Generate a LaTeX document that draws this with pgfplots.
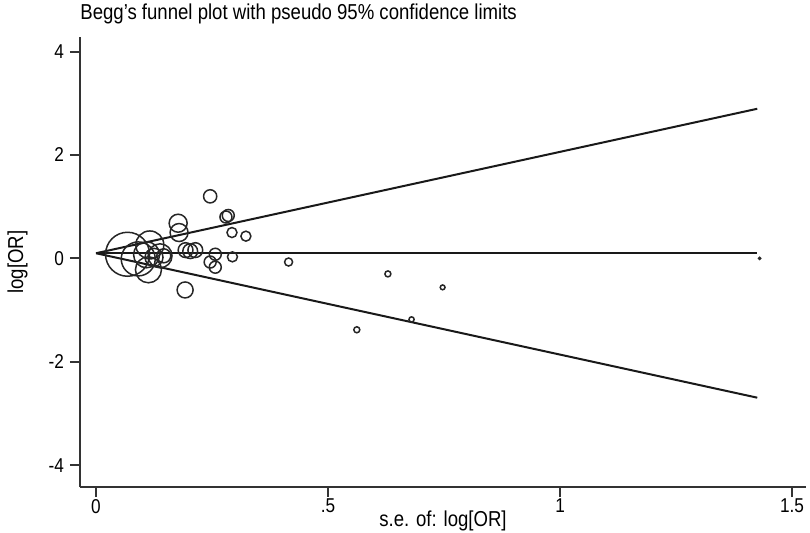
\documentclass[border=0pt]{standalone}
\usepackage{fontspec}
\setmainfont[FakeStretch=0.86]{Liberation Sans}
\usepackage{pgfplots}
\usepackage{pgfplotstable}
\pgfplotsset{compat=1.18}
\pgfplotstableread{
se lor r
0.068 0.08 11
0.091 -0.01 8.5
0.116 0.26 7
0.109 0.07 6.5
0.138 0.05 6
0.113 -0.22 6.5
0.125 0.02 4.5
0.146 0.05 3.5
0.177 0.68 4.5
0.179 0.50 4.5
0.192 -0.61 4
0.193 0.16 3.7
0.203 0.14 3.7
0.214 0.16 3.7
0.246 1.20 3.3
0.280 0.80 3
0.285 0.83 3
0.293 0.50 2.5
0.323 0.43 2.5
0.257 0.08 3
0.246 -0.07 3
0.257 -0.17 3
0.294 0.03 2.5
0.415 -0.07 2
0.629 -0.30 1.5
0.747 -0.56 1.2
0.680 -1.18 1.3
0.562 -1.38 1.5
1.430 0.00 0.5
}\studies
\begin{document}
\begin{tikzpicture}
\path[use as bounding box] (-40pt,-22.5pt) rectangle (365pt,243.5pt);
\begin{axis}[
  scale only axis, width=363pt, height=225pt,
  at={(0,0)}, anchor=south west,
  xmin=-0.0345, xmax=1.530, ymin=-4.42, ymax=4.28,
  axis x line*=bottom, axis y line*=left,
  axis line style={-, black!80, line width=1pt},
  tick align=outside, major tick length=5pt,
  tick style={black!80, line width=1pt},
  xtick={0,0.5,1,1.5}, xticklabels={0,.5,1,1.5},
  ytick={-4,-2,0,2,4}, yticklabels={-4,-2,0,2,4},
  ticklabel style={font=\fontsize{10}{12}\selectfont},
  xticklabel style={yshift=2.5pt},
  yticklabel style={xshift=0.5pt},
  xlabel={s.e. of: log[OR]},
  xlabel style={at={(axis description cs:0.5,-0.076)}, anchor=center, font=\fontsize{10.8}{12}\selectfont},
  ylabel={log[OR]},
  ylabel style={at={(axis description cs:-0.086,0.5)}, anchor=center, font=\fontsize{10.8}{12}\selectfont},
  clip=false,
]
\node[anchor=base west, inner sep=0pt, font=\fontsize{10.8}{12}\selectfont] at (rel axis cs:0,1.038) {Begg's funnel plot with pseudo 95\% confidence limits};
\addplot[black!90, line width=1pt] coordinates {(0,0.1) (1.425,2.893)};
\addplot[black!90, line width=1pt] coordinates {(0,0.1) (1.425,0.1)};
\addplot[black!90, line width=1pt] coordinates {(0,0.1) (1.425,-2.693)};
\addplot[scatter, only marks, mark=o,
  scatter/use mapped color={draw=black!85},
  mark options={line width=0.75pt},
  visualization depends on={\thisrow{r}\as\rad},
  scatter/@pre marker code/.append style={/tikz/mark size=\rad pt}]
  table[x=se, y=lor] {\studies};
\end{axis}
\end{tikzpicture}
\end{document}
